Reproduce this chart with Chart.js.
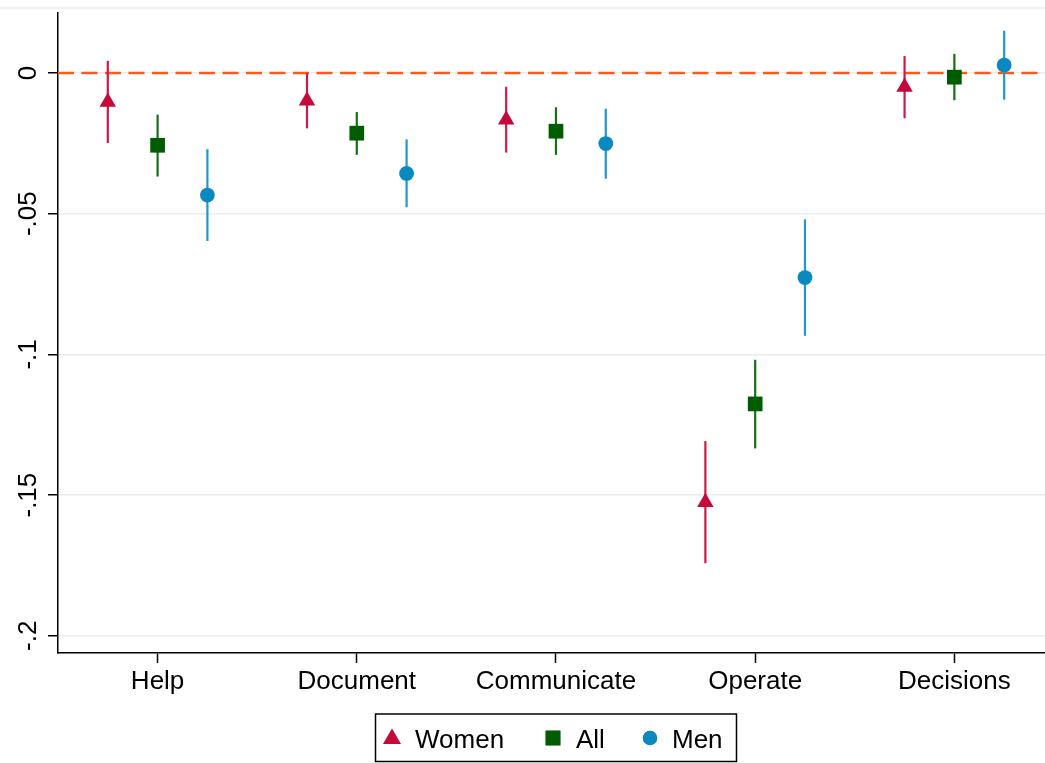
<!DOCTYPE html>
<html>
<head>
<meta charset="utf-8">
<script src="https://cdn.jsdelivr.net/npm/chart.js@4.4.1/dist/chart.umd.min.js"></script>
<style>
  html, body { margin: 0; padding: 0; background: #ffffff; }
  #wrap { width: 1045px; height: 763px; position: relative; }
  canvas { display: block; }
</style>
</head>
<body>
<div id="wrap"><canvas id="chart" width="1045" height="763"></canvas></div>
<script>
// Task categories along the x axis
const categories = ['Help', 'Document', 'Communicate', 'Operate', 'Decisions'];

// Series names shown in the legend
const seriesNames = ['Women', 'All', 'Men'];

// Point estimates and 95% confidence bounds, one entry per category
const womenEst = [-0.0103, -0.0099, -0.0166, -0.1525, -0.0050];
const womenLo  = [-0.0249, -0.0197, -0.0283, -0.1742, -0.0161];
const womenHi  = [ 0.0043, -0.0001, -0.0049, -0.1308,  0.0060];

const allEst = [-0.0257, -0.0214, -0.0207, -0.1176, -0.0015];
const allLo  = [-0.0368, -0.0291, -0.0291, -0.1334, -0.0097];
const allHi  = [-0.0148, -0.0139, -0.0122, -0.1019,  0.0068];

const menEst = [-0.0434, -0.0357, -0.0251, -0.0727,  0.0028];
const menLo  = [-0.0597, -0.0477, -0.0376, -0.0934, -0.0095];
const menHi  = [-0.0271, -0.0236, -0.0127, -0.0520,  0.0150];

// Y axis ticks and their printed labels
const yTicks = [0, -0.05, -0.1, -0.15, -0.2];
const yTickLabels = ['0', '-.05', '-.1', '-.15', '-.2'];

const FONT = '"Liberation Sans", Arial, Helvetica, sans-serif';
const WOMEN_COLOR = '#c5093b', WOMEN_CI = '#cc1a46';
const ALL_COLOR = '#005c00', ALL_CI = '#157015';
const MEN_COLOR = '#0a89c1', MEN_CI = '#1b9ad1';
const GRID_COLOR = '#e7edf1';

// Horizontal offset of each series around its category slot
const offsets = [-0.25, 0, 0.25];

function pts(est, k) {
  return est.map((v, i) => ({ x: i + 1 + offsets[k], y: v }));
}

const series = [
  { name: seriesNames[0], est: womenEst, lo: womenLo, hi: womenHi, color: WOMEN_COLOR, ci: WOMEN_CI, style: 'triangle', radius: 9.5 },
  { name: seriesNames[1], est: allEst,   lo: allLo,   hi: allHi,   color: ALL_COLOR,   ci: ALL_CI,   style: 'rect',     radius: 10.4 },
  { name: seriesNames[2], est: menEst,   lo: menLo,   hi: menHi,   color: MEN_COLOR,   ci: MEN_CI,   style: 'circle',   radius: 7.4 }
];

// Light frame line along the top of the graph region
const topRule = {
  id: 'topRule',
  beforeDraw(chart) {
    const ctx = chart.ctx;
    ctx.save();
    ctx.strokeStyle = GRID_COLOR;
    ctx.lineWidth = 1.5;
    ctx.beginPath();
    ctx.moveTo(0, 8);
    ctx.lineTo(chart.width, 8);
    ctx.stroke();
    ctx.restore();
  }
};

// Dashed reference line at zero plus the confidence-interval spikes
const intervals = {
  id: 'intervals',
  beforeDatasetsDraw(chart) {
    const ctx = chart.ctx;
    const xs = chart.scales.x, ys = chart.scales.y;
    const area = chart.chartArea;
    ctx.save();
    // zero line
    const y0 = ys.getPixelForValue(0);
    ctx.strokeStyle = '#fa5a1c';
    ctx.lineWidth = 2.6;
    ctx.setLineDash([16, 7.5]);
    ctx.beginPath();
    ctx.moveTo(area.left, y0);
    ctx.lineTo(area.right, y0);
    ctx.stroke();
    ctx.setLineDash([]);
    // intervals
    series.forEach((s, k) => {
      ctx.strokeStyle = s.ci;
      ctx.lineWidth = 2.2;
      s.lo.forEach((lo, i) => {
        const px = xs.getPixelForValue(i + 1 + offsets[k]);
        ctx.beginPath();
        ctx.moveTo(px, ys.getPixelForValue(lo));
        ctx.lineTo(px, ys.getPixelForValue(s.hi[i]));
        ctx.stroke();
      });
    });
    ctx.restore();
  }
};

// Rotated y tick labels and the framed legend beneath the axis
const decorations = {
  id: 'decorations',
  afterDraw(chart) {
    const ctx = chart.ctx;
    const ys = chart.scales.y;
    ctx.save();
    ctx.fillStyle = '#000';
    ctx.font = '26px ' + FONT;
    ctx.textAlign = 'center';
    ctx.textBaseline = 'alphabetic';
    yTicks.forEach((v, i) => {
      const py = ys.getPixelForValue(v);
      ctx.save();
      ctx.translate(36, py);
      ctx.rotate(-Math.PI / 2);
      ctx.fillText(yTickLabels[i], 0, 0);
      ctx.restore();
    });

    // legend frame
    ctx.strokeStyle = '#000';
    ctx.lineWidth = 1.5;
    ctx.strokeRect(375.5, 714, 361, 47.5);
    const markerX = [392, 553, 650];
    const textX = [415, 576, 672];
    const legendRadius = [10.2, 10.4, 7.2];
    const my = 738;
    ctx.textAlign = 'left';
    series.forEach((s, k) => {
      ctx.fillStyle = s.color;
      Chart.helpers.drawPoint(ctx, {
        pointStyle: s.style, radius: legendRadius[k], borderWidth: 0, rotation: 0
      }, markerX[k], my + (s.style === 'triangle' ? 1 : 0));
      ctx.fill();
      ctx.fillStyle = '#000';
      ctx.fillText(s.name, textX[k], 748);
    });
    ctx.restore();
  }
};

const datasets = series.map((s, k) => ({
  label: s.name,
  data: pts(s.est, k),
  pointStyle: s.style,
  pointRadius: s.radius,
  pointHoverRadius: s.radius,
  pointBackgroundColor: s.color,
  pointBorderColor: s.color,
  pointBorderWidth: 0,
  showLine: false
}));

new Chart(document.getElementById('chart'), {
  type: 'scatter',
  data: { datasets },
  plugins: [topRule, intervals, decorations],
  options: {
    responsive: false,
    animation: false,
    devicePixelRatio: 1,
    layout: { autoPadding: false, padding: { top: 13, left: 0, right: 0, bottom: 0 } },
    plugins: {
      legend: { display: false },
      tooltip: { enabled: false }
    },
    scales: {
      x: {
        type: 'linear',
        position: 'bottom',
        min: 0.5,
        max: 5.455,
        afterBuildTicks: (scale) => { scale.ticks = categories.map((c, i) => ({ value: i + 1 })); },
        afterFit: (scale) => {
          scale.height = 110;
          scale.paddingLeft = 0;
          scale.paddingRight = 0;
        },
        ticks: {
          autoSkip: false,
          maxRotation: 0,
          minRotation: 0,
          padding: 3,
          color: '#000',
          font: { family: FONT, size: 26 },
          callback: (v) => categories[Math.round(v) - 1] || ''
        },
        grid: {
          drawOnChartArea: false,
          drawTicks: true,
          tickLength: 10,
          tickWidth: 1.5,
          tickColor: '#000'
        },
        border: { display: true, color: '#000', width: 1.5 }
      },
      y: {
        type: 'linear',
        min: -0.2061,
        max: 0.0213,
        afterBuildTicks: (scale) => { scale.ticks = yTicks.map(v => ({ value: v })); },
        afterFit: (scale) => {
          scale.width = 58;
          scale.paddingTop = 0;
          scale.paddingBottom = 0;
        },
        ticks: {
          color: 'rgba(0,0,0,0)',
          font: { family: FONT, size: 26 },
          callback: (v) => ''
        },
        grid: {
          color: GRID_COLOR,
          lineWidth: 1.5,
          drawTicks: true,
          tickLength: 10,
          tickWidth: 1.5,
          tickColor: '#000'
        },
        border: { display: true, color: '#000', width: 1.5 }
      }
    }
  }
});
</script>
</body>
</html>
